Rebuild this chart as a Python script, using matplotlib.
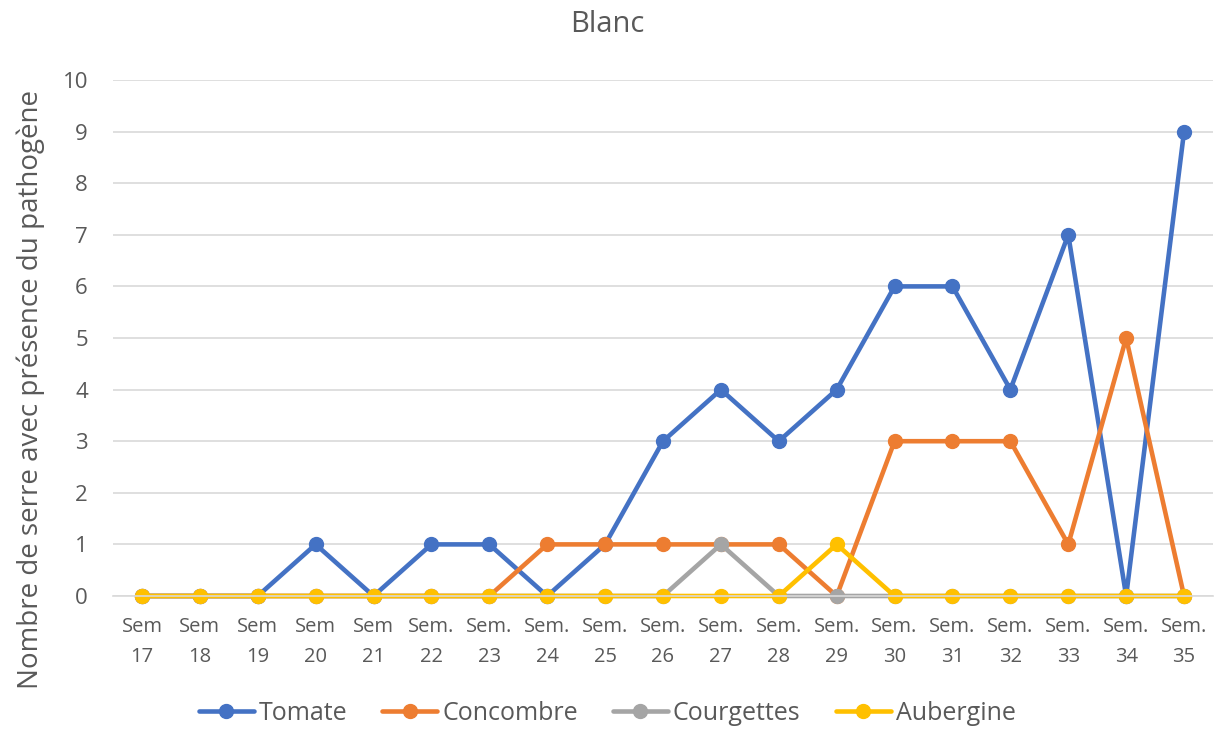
import matplotlib
matplotlib.use("Agg")
import matplotlib.pyplot as plt

weeks = ["Sem\n17", "Sem\n18", "Sem\n19", "Sem\n20", "Sem\n21", "Sem.\n22", "Sem.\n23",
         "Sem.\n24", "Sem.\n25", "Sem.\n26", "Sem.\n27", "Sem.\n28", "Sem.\n29", "Sem.\n30",
         "Sem.\n31", "Sem.\n32", "Sem.\n33", "Sem.\n34", "Sem.\n35"]
tomate     = [0, 0, 0, 1, 0, 1, 1, 0, 1, 3, 4, 3, 4, 6, 6, 4, 7, 0, 9]
concombre  = [0, 0, 0, 0, 0, 0, 0, 1, 1, 1, 1, 1, 0, 3, 3, 3, 1, 5, 0]
courgettes = [0, 0, 0, 0, 0, 0, 0, 0, 0, 0, 1, 0, 0, 0, 0, 0, 0, 0, 0]
aubergine  = [0, 0, 0, 0, 0, 0, 0, 0, 0, 0, 0, 0, 1, 0, 0, 0, 0, 0, 0]

plt.rcParams['font.family'] = ['Open Sans', 'DejaVu Sans']
txt = '#595959'

fig = plt.figure(figsize=(12.14, 7.31), dpi=100)
ax = fig.add_axes([113/1214, 1 - 596/731, 1100/1214, (596 - 80)/731])

x = list(range(len(weeks)))
series = [("Tomate", tomate, '#4472C4'), ("Concombre", concombre, '#ED7D31'),
          ("Courgettes", courgettes, '#A5A5A5'), ("Aubergine", aubergine, '#FFC000')]
for name, vals, c in series:
    ax.plot(x, vals, color=c, lw=3.3, marker='o', ms=10, label=name,
            solid_capstyle='round', clip_on=False)

ax.set_xlim(-0.5, len(weeks) - 0.5)
ax.set_ylim(0, 10)
ax.set_yticks(range(0, 11))
ax.set_xticks(x)
ax.set_xticklabels(weeks, linespacing=1.68)
ax.grid(axis='y', color='#D9D9D9', lw=1.2)
ax.set_axisbelow(True)
for s in ['top', 'right', 'left']:
    ax.spines[s].set_visible(False)
ax.spines['bottom'].set_color('#D9D9D9')
ax.spines['bottom'].set_linewidth(1.2)
ax.tick_params(axis='both', length=0, colors=txt)
ax.tick_params(axis='y', labelsize=16, pad=18)
ax.tick_params(axis='x', labelsize=14.5, pad=15)

ax.set_ylabel("Nombre de serre avec présence du pathogène", fontsize=20, color=txt)
ax.yaxis.set_label_coords(-68/1100, 0.40)
fig.text(0.5, 1 - 24/731, "Blanc", ha='center', va='center', fontsize=21, color=txt)

leg = fig.legend(loc='center', bbox_to_anchor=(0.5, 1 - 713/731), ncol=4, frameon=False,
                 fontsize=18, labelcolor=txt, handlelength=2.2, handletextpad=0.2,
                 columnspacing=1.4)

fig.savefig("out.png", dpi=100)
